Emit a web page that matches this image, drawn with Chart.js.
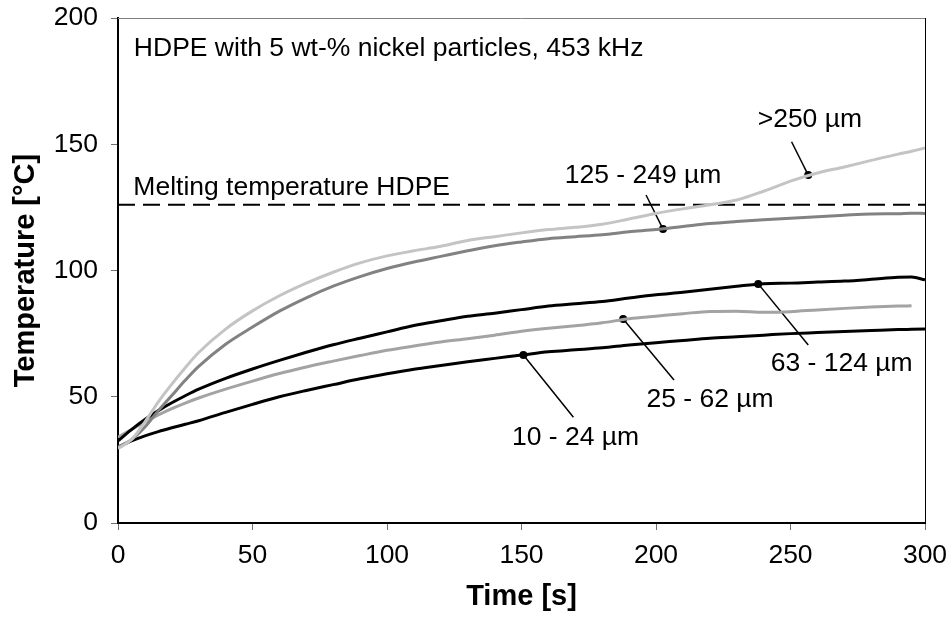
<!DOCTYPE html>
<html>
<head>
<meta charset="utf-8">
<script src="https://cdn.jsdelivr.net/npm/chart.js@4.4.1/dist/chart.umd.min.js"></script>
<style>
  body { margin: 0; background: #fff; }
  #wrap { width: 952px; height: 629px; position: relative; }
</style>
</head>
<body>
<div id="wrap"><canvas id="tempChart"></canvas></div>
<script>
// --- Data ---
const times = [0, 5, 10, 15, 20, 25, 30, 40, 50, 60, 70, 80, 90, 100, 110, 120, 130, 140, 150,
  160, 170, 180, 190, 200, 210, 220, 230, 240, 250, 260, 270, 280, 290, 295, 300];

const over250 = [29.5, 33, 40, 48, 55, 61.5, 67.5, 76.8, 84, 90, 95, 99.3, 103, 105.8, 107.8, 109.6, 111.9, 113.4, 114.9,
  116.2, 117.1, 118.3, 120.4, 122.6, 124.4, 126, 127.9, 131.4, 135.4, 138.6, 141, 143.6, 146.1, 147.2, 148.5];
const size125 = [30, 33, 38, 44.5, 50.5, 56.5, 62, 70.8, 77.6, 83.9, 89.2, 93.8, 97.6, 100.8, 103.4, 105.6, 107.8, 109.8, 111.3,
  112.6, 113.4, 114.2, 115.3, 116.2, 117.4, 118.6, 119.4, 120.1, 120.7, 121.3, 121.9, 122.4, 122.5, 122.7, 122.6];
const size63 = [32.5, 37, 41, 44.5, 47.6, 50.4, 53, 57.3, 61, 64.4, 67.6, 70.6, 73.2, 75.7, 78.2, 80.1, 81.9, 83.1, 84.5,
  85.9, 86.8, 87.7, 89.1, 90.4, 91.4, 92.6, 93.8, 94.8, 95, 95.4, 95.8, 96.5, 97.3, 97.4, 96.3];
const size25 = [34, 37, 40, 42.8, 45.3, 47.5, 49.5, 53, 56.2, 59.2, 61.8, 64.1, 66.3, 68.4, 70.1, 71.7, 73, 74.4, 75.9,
  77.1, 78.1, 79.3, 80.9, 81.9, 82.9, 83.8, 83.9, 83.5, 83.7, 84.4, 85, 85.5, 85.9, 86, null];
const size10 = [30, 32.5, 34.5, 36.2, 37.7, 39.1, 40.5, 43.8, 47, 50, 52.5, 54.8, 57.1, 59.1, 60.9, 62.4, 63.9, 65.2, 66.5,
  67.8, 68.6, 69.4, 70.5, 71.4, 72.3, 73.2, 73.8, 74.4, 75, 75.4, 75.8, 76.2, 76.6, 76.7, 76.8];

const meltingTemp = 126;
const xTicks = [0, 50, 100, 150, 200, 250, 300];
const yTicks = [0, 50, 100, 150, 200];

// series labels, where the leader touches the curve, where it ends, where the text sits
const labelNames = ['>250 µm', '125 - 249 µm', '63 - 124 µm', '25 - 62 µm', '10 - 24 µm'];
const labelDots = [[256.6, 137.8], [202.6, 116.4], [238, 94.7], [187.8, 80.8], [150.7, 66.5]];
const labelEnds = [[250.4, 151], [196.3, 129.9], [256.6, 70.5], [206.7, 56.6], [169.3, 41.9]];
const labelText = [[257.2, 156.7], [195.2, 134.5], [269, 60.3], [220.1, 45.8], [170.1, 31]];

const noteTitle = 'HDPE with 5 wt-% nickel particles, 453 kHz';
const noteTitleAt = [5.9, 184.9];
const noteMelt = 'Melting temperature HDPE';
const noteMeltAt = [5.7, 129.9];

const FONT = '"Liberation Sans", Arial, sans-serif';
Chart.defaults.font.family = FONT;
Chart.defaults.color = '#000';

function toPoints(ys) {
    return times.map((t, i) => ({ x: t, y: ys[i] }));
}

function curve(label, ys, color) {
    return {
        label: label,
        data: toPoints(ys),
        borderColor: color,
        borderWidth: 3,
        pointRadius: 0,
        cubicInterpolationMode: 'monotone',
        spanGaps: false
    };
}

const datasets = [
    curve('>250 µm', over250, '#c4c4c4'),
    curve('125 - 249 µm', size125, '#828282'),
    curve('63 - 124 µm', size63, '#000000'),
    curve('25 - 62 µm', size25, '#a3a3a3'),
    curve('10 - 24 µm', size10, '#000000'),
    {
        label: 'melt',
        data: [{ x: xTicks[0], y: meltingTemp }, { x: xTicks[xTicks.length - 1], y: meltingTemp }],
        borderColor: '#000',
        borderWidth: 2,
        borderDash: [17, 8],
        pointRadius: 0
    }
];

// leader lines with the dot on the curve
labelDots.forEach((d, i) => {
    datasets.push({
        label: 'leader' + i,
        data: [{ x: d[0], y: d[1] }, { x: labelEnds[i][0], y: labelEnds[i][1] }],
        borderColor: '#000',
        borderWidth: 1.5,
        pointRadius: [4, 0],
        pointBackgroundColor: '#000',
        pointBorderWidth: 0
    });
});

// frame and text notes
const notesPlugin = {
    id: 'notes',
    beforeDatasetsDraw(chart) {
        const { ctx, chartArea: a } = chart;
        ctx.save();
        ctx.lineWidth = 1;
        ctx.strokeStyle = '#808080';
        ctx.beginPath();
        ctx.moveTo(a.left, a.top + 0.5);
        ctx.lineTo(a.right, a.top + 0.5);
        ctx.stroke();
        ctx.strokeStyle = '#000';
        ctx.beginPath();
        ctx.moveTo(a.right + 0.5, a.top);
        ctx.lineTo(a.right + 0.5, a.bottom);
        ctx.stroke();
        ctx.restore();
    },
    afterDatasetsDraw(chart) {
        const { ctx, scales: { x, y } } = chart;
        ctx.save();
        ctx.fillStyle = '#000';
        ctx.font = '26.5px ' + FONT;
        ctx.textBaseline = 'alphabetic';
        ctx.textAlign = 'left';
        ctx.fillText(noteTitle, x.getPixelForValue(noteTitleAt[0]), y.getPixelForValue(noteTitleAt[1]));
        ctx.fillText(noteMelt, x.getPixelForValue(noteMeltAt[0]), y.getPixelForValue(noteMeltAt[1]));
        ctx.textAlign = 'center';
        labelNames.forEach((name, i) => {
            ctx.fillText(name, x.getPixelForValue(labelText[i][0]), y.getPixelForValue(labelText[i][1]));
        });
        ctx.restore();
    }
};

new Chart(document.getElementById('tempChart'), {
    type: 'line',
    data: { datasets: datasets },
    plugins: [notesPlugin],
    options: {
        responsive: true,
        maintainAspectRatio: false,
        animation: false,
        layout: { padding: { top: 18, right: 27, left: 0, bottom: 0 } },
        plugins: { legend: { display: false }, tooltip: { enabled: false } },
        scales: {
            x: {
                type: 'linear',
                min: 0,
                max: 300,
                afterBuildTicks: (s) => { s.ticks = xTicks.map(v => ({ value: v })); },
                afterFit: (s) => { s.height = 106; s.paddingLeft = 0; s.paddingRight = 0; },
                grid: { drawOnChartArea: false, drawTicks: true, tickLength: 7, color: '#707070', lineWidth: 1 },
                border: { display: true, color: '#000', width: 2 },
                ticks: { font: { size: 26.5 }, color: '#000', padding: 10, maxRotation: 0 },
                title: { display: true, text: 'Time [s]', font: { size: 29, weight: 'bold' }, color: '#000', padding: { top: 0, bottom: 15 } }
            },
            y: {
                type: 'linear',
                min: 0,
                max: 200,
                afterBuildTicks: (s) => { s.ticks = yTicks.map(v => ({ value: v })); },
                afterFit: (s) => { s.width = 118; s.paddingTop = 0; s.paddingBottom = 0; },
                grid: { drawOnChartArea: false, drawTicks: true, tickLength: 7, color: '#707070', lineWidth: 1 },
                border: { display: true, color: '#000', width: 2 },
                ticks: { font: { size: 26.5 }, color: '#000', padding: 13 },
                title: { display: true, text: 'Temperature [°C]', font: { size: 29, weight: 'bold' }, color: '#000', padding: { top: 9, bottom: 0 } }
            }
        }
    }
});
</script>
</body>
</html>
